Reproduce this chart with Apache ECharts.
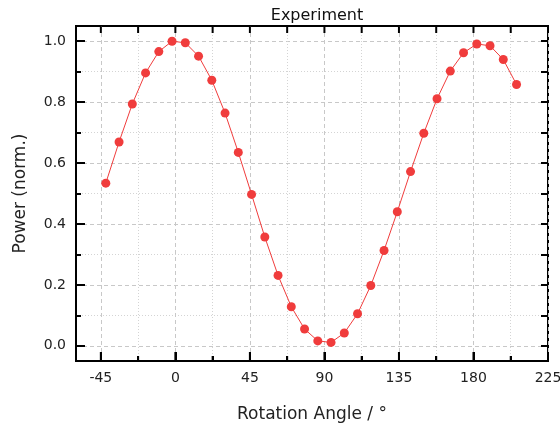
<!DOCTYPE html>
<html>
<head>
<meta charset="utf-8">
<script src="https://cdn.jsdelivr.net/npm/echarts@6/dist/echarts.min.js"></script>
<style>html,body{margin:0;padding:0;background:#fff;}#c{width:560px;height:429px;}</style>
</head>
<body>
<div id="c"></div>
<script>
const angles = [-42,-34,-26,-18,-10,-2,6,14,22,30,38,46,54,62,70,78,86,94,102,110,118,126,134,142,150,158,166,174,182,190,198,206];
const power = [0.534,0.669,0.794,0.896,0.966,1.000,0.995,0.951,0.872,0.764,0.635,0.497,0.357,0.231,0.128,0.055,0.016,0.011,0.042,0.105,0.198,0.313,0.440,0.572,0.698,0.811,0.902,0.962,0.991,0.985,0.940,0.858];
const xMajor = [-45,0,45,90,135,180,225];
const xMinor = [-22.5,22.5,67.5,112.5,157.5,202.5];
const yMajor = [0,0.2,0.4,0.6,0.8,1.0];
const yMinor = [0.1,0.3,0.5,0.7,0.9];
const xRange = [-60,225];
const yRange = [-0.05,1.05];

const FONT = 'DejaVu Sans';
const chart = echarts.init(document.getElementById('c'));
const gridBox = {left:76, right:12, top:26, bottom:68, outerBoundsMode:'none', containLabel:false};
const hiddenLabel = {show:true, color:'rgba(0,0,0,0)', fontSize:1};

function mainX(g, ticks, len, split, labels, name){
  return {
    gridIndex:g, type:'value', position:'bottom', min:xRange[0], max:xRange[1],
    axisLine:{show:false, onZero:false},
    axisTick:{show:true, inside:true, length:len, customValues:ticks, lineStyle:{color:'#000', width:2}},
    axisLabel: labels ? {show:true, customValues:labels, color:'#222', fontSize:14, fontFamily:FONT, margin:10} : hiddenLabel,
    splitLine:{show:true, lineStyle:split},
    name: name, nameLocation:'middle', nameGap:45,
    nameTextStyle:{fontSize:17, fontFamily:FONT, color:'#222'}
  };
}
function mainY(g, ticks, len, split, labels, name){
  return {
    gridIndex:g, type:'value', position:'left', min:yRange[0], max:yRange[1],
    axisLine:{show:false, onZero:false},
    axisTick:{show:true, inside:true, length:len, customValues:ticks, lineStyle:{color:'#000', width:2}},
    axisLabel: labels ? {show:true, customValues:labels, color:'#222', fontSize:14, fontFamily:FONT, margin:10,
      formatter:v=>v.toFixed(1)} : hiddenLabel,
    splitLine:{show:true, lineStyle:split},
    name: name, nameLocation:'middle', nameGap:47, nameRotate:90,
    nameTextStyle:{fontSize:17, fontFamily:FONT, color:'#222'}
  };
}
function tickY(g, pos, ticks, len){
  return {gridIndex:g, type:'value', position:pos, min:yRange[0], max:yRange[1],
    axisLine:{show:false, onZero:false},
    axisTick:{show:true, inside:true, length:len, customValues:ticks, lineStyle:{color:'#000', width:2}},
    axisLabel:{show:true, customValues:ticks, color:'rgba(0,0,0,0)'},
    splitLine:{show:false}};
}
function plainX(g){
  return {gridIndex:g, type:'value', min:xRange[0], max:xRange[1], show:false};
}
// x-axis tick marks as thin rect symbols placed through the axis scale, on their own layer
function xTickMarks(values, edgeValue, len, dir){
  return {
    type:'scatter', xAxisIndex:0, yAxisIndex:0, silent:true, clip:false,
    zlevel:1, z:10, animation:false,
    data: values.map(v=>[v, edgeValue]),
    symbol:'rect', symbolSize:[2, len], symbolOffset:[0, dir*len/2],
    itemStyle:{color:'#000', opacity:1},
    emphasis:{disabled:true}
  };
}

chart.setOption({
  animation:false,
  title:{text:'Experiment', left:312, textAlign:'center', top:3,
    textStyle:{fontSize:16, fontWeight:'normal', fontFamily:FONT, color:'#111'}},
  grid:[
    Object.assign({show:true, borderColor:'#000', borderWidth:2, backgroundColor:'transparent'}, gridBox),
    Object.assign({}, gridBox),
    Object.assign({}, gridBox),
    Object.assign({}, gridBox),
    Object.assign({}, gridBox)
  ],
  xAxis:[
    mainX(0, xMajor, 9, {color:'#c8c8c8', type:[4,3], width:1}, xMajor, 'Rotation Angle / °'),
    mainX(1, xMinor, 5, {color:'#d4d4d4', type:[1,2], width:1}, null, ''),
    plainX(2), plainX(3), plainX(4)
  ],
  yAxis:[
    mainY(0, yMajor, 9, {color:'#c8c8c8', type:[4,3], width:1}, yMajor, 'Power (norm.)'),
    mainY(1, yMinor, 5, {color:'#d4d4d4', type:[1,2], width:1}, null, ''),
    tickY(2, 'left', yMajor, 9),
    tickY(3, 'left', yMinor, 5),
    tickY(4, 'right', yMajor.concat(yMinor), 7)
  ],
  series:[
    xTickMarks(xMajor, yRange[0], 9, -1),
    xTickMarks(xMinor, yRange[0], 5, -1),
    xTickMarks(xMajor.concat(xMinor), yRange[1], 7, 1),
    {
      type:'line', xAxisIndex:0, yAxisIndex:0,
      data: angles.map((a,i)=>[a, power[i]]),
      symbol:'circle', symbolSize:9,
      itemStyle:{color:'#f03c3c'},
      lineStyle:{color:'#f03c3c', width:1},
      z:5
    }
  ]
});
</script>
</body>
</html>
